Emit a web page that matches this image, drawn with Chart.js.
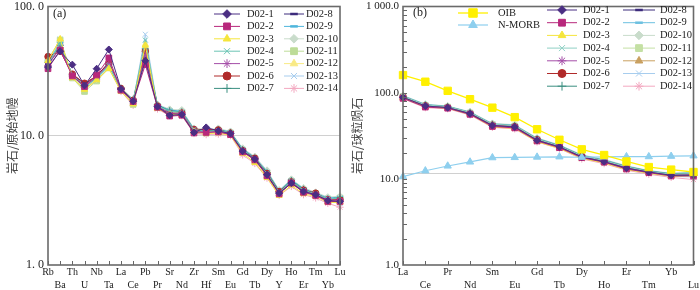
<!DOCTYPE html>
<html>
<head>
<meta charset="utf-8">
<script src="https://cdn.jsdelivr.net/npm/chart.js@4.4.1/dist/chart.umd.min.js"></script>
<style>
  html, body { margin: 0; padding: 0; background: #fff; }
  #wrap { position: relative; width: 700px; height: 290px; }
  .panel { position: absolute; top: 0; width: 350px; height: 290px; }
  #pa { left: 0; }
  #pb { left: 350px; }
</style>
</head>
<body>
<div id="wrap">
  <div class="panel" id="pa"><canvas id="chartA" width="350" height="290"></canvas></div>
  <div class="panel" id="pb"><canvas id="chartB" width="350" height="290"></canvas></div>
</div>
<script>
// categorias
const elementsA = ['Rb', 'Ba', 'Th', 'U', 'Nb', 'Ta', 'La', 'Ce', 'Pb', 'Pr', 'Sr', 'Nd', 'Zr',
                   'Hf', 'Sm', 'Eu', 'Gd', 'Tb', 'Dy', 'Y', 'Ho', 'Er', 'Tm', 'Yb', 'Lu'];
const elementsB = ['La', 'Ce', 'Pr', 'Nd', 'Sm', 'Eu', 'Gd', 'Tb', 'Dy', 'Ho', 'Er', 'Tm', 'Yb', 'Lu'];
const sampleNames = ['D02-1', 'D02-2', 'D02-3', 'D02-4', 'D02-5', 'D02-6', 'D02-7',
                     'D02-8', 'D02-9', 'D02-10', 'D02-11', 'D02-12', 'D02-13', 'D02-14'];

// eixos
const yTicksA = [1, 10, 100];
const yLabelsA = ['1. 0', '10. 0', '100. 0'];
const yTicksB = [1, 10, 100, 1000];
const yLabelsB = ['1.0', '10.0', '100.0', '1 000.0'];

// (a) rocha / manto primitivo
const a_D02_1  = [34, 45, 35.5, 24.5, 33, 46.5, 23, 18.5, 38, 16.8, 14.4, 14.6, 10.6, 11.6, 10.9, 10.4, 7.6, 6.6, 5.0, 3.6, 4.3, 3.7, 3.5, 3.15, 3.1];
const a_D02_2  = [33, 46, 29, 24, 29.5, 40, 22.5, 18.4, 35.5, 16.6, 14.2, 14.4, 10.5, 10.6, 10.7, 10.2, 7.5, 6.5, 4.9, 3.55, 4.3, 3.65, 3.45, 3.1, 3.1];
const a_D02_3  = [38, 56, 28, 22.8, 27, 33, 22, 17.6, 50, 16.2, 14.6, 14.5, 10.7, 10.4, 10.5, 10.1, 7.3, 6.2, 4.75, 3.45, 4.15, 3.55, 3.4, 3.05, 3.05];
const a_D02_4  = [36, 52, 29.5, 23.5, 28, 35, 23, 18.8, 55, 17, 15.5, 15.2, 11.2, 10.8, 11.0, 10.6, 7.8, 6.6, 5.1, 3.65, 4.45, 3.8, 3.55, 3.25, 3.3];
const a_D02_5  = [35, 48, 29, 24, 28.5, 36, 22.8, 18.6, 42, 16.8, 15, 14.9, 11, 10.7, 10.8, 10.4, 7.6, 6.5, 5.0, 3.6, 4.35, 3.75, 3.5, 3.2, 3.15];
const a_D02_6  = [41, 45, 30, 25.5, 29, 36.5, 23.2, 18.8, 45, 17, 14.8, 15, 11.2, 11.2, 11.1, 10.5, 7.7, 6.7, 5.1, 3.7, 4.4, 3.8, 3.6, 3.2, 3.2];
const a_D02_7  = [37, 50, 29.5, 24, 28.5, 35.5, 23, 18.9, 47, 17.2, 15.6, 15.3, 11.1, 10.9, 11.1, 10.6, 7.8, 6.7, 5.2, 3.7, 4.5, 3.85, 3.55, 3.25, 3.3];
const a_D02_8  = [36, 47, 30, 25, 29, 37, 23.2, 18.7, 40, 17, 14.6, 14.7, 10.8, 11, 10.8, 10.3, 7.6, 6.6, 5.0, 3.6, 4.3, 3.75, 3.5, 3.15, 3.2];
const a_D02_9  = [37, 52, 29, 24.5, 28, 35, 23.3, 19, 44, 17.3, 15.8, 15.5, 11.3, 11, 11.2, 10.7, 7.9, 6.8, 5.3, 3.75, 4.55, 3.9, 3.6, 3.3, 3.35];
const a_D02_10 = [38, 53, 28.5, 23.5, 27.5, 34, 23.5, 19.2, 46, 17.5, 16, 15.8, 11.4, 11.1, 11.4, 10.8, 8.0, 6.9, 5.4, 3.8, 4.6, 3.95, 3.65, 3.35, 3.4];
const a_D02_11 = [39, 55, 28, 22, 26.5, 33.5, 22.5, 17.5, 43, 16.5, 15.2, 15, 11, 10.5, 10.8, 10.5, 7.7, 6.6, 5.1, 3.65, 4.45, 3.8, 3.55, 3.25, 3.3];
const a_D02_12 = [38, 55, 28.5, 23, 27, 34, 22.8, 18, 51, 16.6, 15, 14.8, 10.8, 10.6, 10.7, 10.3, 7.5, 6.4, 4.9, 3.55, 4.3, 3.7, 3.45, 3.15, 3.1];
const a_D02_13 = [36, 56, 29, 23.5, 27.5, 34.5, 22.8, 18.2, 61, 16.8, 15.4, 15, 10.9, 10.7, 10.9, 10.4, 7.6, 6.5, 5.0, 3.6, 4.35, 3.7, 3.45, 3.15, 3.0];
const a_D02_14 = [35, 51, 28.5, 23, 27, 34, 22, 17.2, 41, 16.1, 14.3, 14.3, 10.4, 10.2, 10.3, 10, 7.1, 6.1, 4.7, 3.45, 4.05, 3.5, 3.3, 3.0, 2.8];

// (b) rocha / condrito
const oibB   = [160, 134, 105, 84, 67, 52, 37.6, 28.4, 22, 18.9, 15.9, 13.7, 12.8, 12.0];
const nmorbB = [10.6, 12.4, 14.1, 15.7, 17.6, 17.7, 17.9, 18.0, 17.8, 18.0, 18.1, 18.1, 18.3, 18.5];
const b_D02_1  = [88, 70, 67, 57, 41.5, 40, 28, 23.5, 18, 15.8, 13.3, 12, 11, 11];
const b_D02_2  = [86, 68, 66, 56, 40.5, 39, 27.5, 23, 17.6, 15.6, 13, 11.8, 10.8, 10.8];
const b_D02_3  = [87, 68.5, 66, 56, 40, 38.5, 27, 22.6, 17.3, 15.3, 12.8, 11.6, 10.7, 10.9];
const b_D02_4  = [91, 72, 69, 59, 43, 41.5, 29, 24, 18.5, 16.3, 13.8, 12.2, 11.3, 11.5];
const b_D02_5  = [88, 70, 67, 57, 41.5, 40, 28, 23.5, 18, 15.9, 13.4, 12, 11, 11.2];
const b_D02_6  = [89, 70.5, 67.5, 57.5, 42, 40.5, 28.5, 23.8, 18.2, 16, 13.5, 12.1, 11.1, 11.2];
const b_D02_7  = [91, 72, 69, 59, 43, 41.5, 29.2, 24.2, 18.6, 16.4, 13.9, 12.3, 11.4, 11.6];
const b_D02_8  = [88, 70, 67, 57, 41.5, 40, 28, 23.4, 17.9, 15.8, 13.3, 11.9, 11, 11.1];
const b_D02_9  = [92, 73, 69.5, 59.5, 43.5, 42, 29.5, 24.5, 18.8, 16.6, 14, 12.4, 11.5, 11.8];
const b_D02_10 = [93, 73.5, 70, 60, 44, 42.5, 29.8, 24.8, 19, 16.8, 14.2, 12.5, 11.6, 12];
const b_D02_11 = [90, 71, 68, 58, 42.5, 41, 28.8, 24, 18.4, 16.2, 13.7, 12.2, 11.3, 11.5];
const b_D02_12 = [87, 69, 66.5, 56.5, 41, 39.5, 27.8, 23.2, 17.8, 15.7, 13.2, 11.9, 10.9, 10.9];
const b_D02_13 = [87, 69, 66.5, 56.5, 41, 39.5, 27.5, 23, 17.5, 15.5, 13, 11.6, 10.7, 10.5];
const b_D02_14 = [85, 67, 65, 55, 39.5, 38, 26.8, 22.4, 17, 15, 12.6, 11.3, 10.4, 9.8];

const seriesA = [a_D02_1, a_D02_2, a_D02_3, a_D02_4, a_D02_5, a_D02_6, a_D02_7,
                 a_D02_8, a_D02_9, a_D02_10, a_D02_11, a_D02_12, a_D02_13, a_D02_14];
const seriesB = [b_D02_1, b_D02_2, b_D02_3, b_D02_4, b_D02_5, b_D02_6, b_D02_7,
                 b_D02_8, b_D02_9, b_D02_10, b_D02_11, b_D02_12, b_D02_13, b_D02_14];

// estilos
const coresA = ['#4b2e83', '#b8287c', '#f5e53c', '#6cc4b4', '#a54fa8', '#b02a2a', '#3a8f80',
                '#3d2c7c', '#4fb6dc', '#c9dccb', '#bddc98', '#f9ea85', '#a7cdee', '#f3a8c0'];
const coresB = ['#4b2e83', '#b8287c', '#f5e53c', '#8fd0c4', '#a54fa8', '#b02a2a', '#3a8f80',
                '#3d2c7c', '#6cc0e0', '#c9dccb', '#c4e0a4', '#c9a060', '#a7cdee', '#f3a8c0'];
const estilos = ['rectRot', 'rect', 'triangle', 'crossRot', 'star', 'circle', 'cross',
                 'line', 'line', 'rectRot', 'rect', 'triangle', 'crossRot', 'star'];
const raios = { rectRot: 3.5, rect: 4, triangle: 3.6, crossRot: 3.5, star: 3.6, circle: 3.2, cross: 3.6, line: 3 };

const serif = 'Liberation Serif';

function makeSet(label, data, color, style, lineWidth, radius) {
    return {
        label: label,
        data: data,
        borderColor: color,
        backgroundColor: color,
        borderWidth: lineWidth,
        pointStyle: style,
        pointRadius: radius,
        pointBackgroundColor: color,
        pointBorderColor: color,
        pointBorderWidth: style === 'line' ? 2.5 : 1,
        tension: 0
    };
}

const panelDecor = {
    id: 'panelDecor',
    beforeDatasetsDraw(chart, args, opts) {
        const { ctx, chartArea: a, scales: { y } } = chart;
        if (opts.refValue) {
            const py = Math.round(y.getPixelForValue(opts.refValue)) + 0.5;
            ctx.save();
            ctx.strokeStyle = '#d0d0d0';
            ctx.lineWidth = 1;
            ctx.beginPath();
            ctx.moveTo(a.left, py);
            ctx.lineTo(a.right, py);
            ctx.stroke();
            ctx.restore();
        }
    },
    afterDraw(chart, args, opts) {
        const { ctx, chartArea: a, scales: { x, y } } = chart;
        ctx.save();
        // ticks internos
        ctx.strokeStyle = '#666';
        ctx.lineWidth = 1;
        ctx.beginPath();
        chart.data.labels.forEach((l, i) => {
            const px = Math.round(x.getPixelForValue(i)) + 0.5;
            ctx.moveTo(px, a.bottom);
            ctx.lineTo(px, a.bottom - 4);
        });
        (opts.minorTicks || []).forEach(v => {
            const py = Math.round(y.getPixelForValue(v)) + 0.5;
            ctx.moveTo(a.left, py);
            ctx.lineTo(a.left + 4, py);
        });
        ctx.stroke();
        // moldura
        ctx.strokeStyle = '#6a6a6a';
        ctx.lineWidth = 1.6;
        ctx.strokeRect(a.left, a.top, a.right - a.left, a.bottom - a.top);
        // rótulo do painel
        ctx.fillStyle = '#222';
        ctx.font = '12px "' + serif + '"';
        ctx.textBaseline = 'middle';
        ctx.textAlign = 'left';
        ctx.fillText(opts.tag, opts.tagX, opts.tagY);
        // legenda
        ctx.font = '10.5px "' + serif + '"';
        opts.legend.forEach(col => {
            col.items.forEach((di, r) => {
                const ds = chart.data.datasets[di];
                const ly = col.rows[r];
                ctx.strokeStyle = ds.borderColor;
                ctx.lineWidth = ds.borderWidth;
                ctx.beginPath();
                ctx.moveTo(col.x0, ly);
                ctx.lineTo(col.x1, ly);
                ctx.stroke();
                ctx.fillStyle = ds.pointBackgroundColor;
                ctx.strokeStyle = ds.pointBorderColor;
                ctx.lineWidth = ds.pointBorderWidth;
                Chart.helpers.drawPoint(ctx, {
                    pointStyle: ds.pointStyle,
                    radius: ds.pointRadius + 0.8,
                    rotation: 0,
                    borderWidth: ds.pointBorderWidth
                }, (col.x0 + col.x1) / 2, ly);
                ctx.fillStyle = '#222';
                ctx.fillText(ds.label, col.tx, ly);
            });
        });
        ctx.restore();
    }
};

function yAxis(min, max, ticks, labels, title, width, titlePad, fontSize, gridValue) {
    return {
        type: 'logarithmic',
        min: min,
        max: max,
        border: { display: false },
        grid: {
            drawTicks: false,
            color: c => (gridValue && c.tick && c.tick.value === gridValue) ? '#d0d0d0' : 'rgba(0,0,0,0)'
        },
        ticks: {
            padding: 4,
            color: '#222',
            font: { family: serif, size: fontSize },
            callback: v => labels[ticks.indexOf(v)]
        },
        afterBuildTicks: s => { s.ticks = ticks.map(v => ({ value: v })); },
        title: {
            display: true,
            text: title,
            color: '#444',
            font: { family: 'Noto Sans CJK SC', size: 12 },
            padding: { top: titlePad, bottom: 0 }
        },
        afterFit: s => { s.width = width; s.paddingTop = 0; s.paddingBottom = 0; }
    };
}

function xAxis(names) {
    return {
        type: 'category',
        offset: false,
        border: { display: false },
        grid: { display: false, drawTicks: false },
        ticks: {
            autoSkip: false,
            maxRotation: 0,
            minRotation: 0,
            padding: 1,
            color: '#222',
            font: { family: serif, size: 10, lineHeight: 1.27 },
            callback: (v, i) => i % 2 ? ['', names[i]] : names[i]
        },
        afterFit: s => { s.height = 25; s.paddingLeft = 0; s.paddingRight = 0; }
    };
}

const rowsA = [14, 26.4, 38.8, 51.2, 63.6, 76, 88.4];
const rowsB = [10, 22.7, 35.4, 48.1, 60.8, 73.5, 86.2];

new Chart(document.getElementById('chartA'), {
    type: 'line',
    data: {
        labels: elementsA,
        datasets: sampleNames.map((n, i) => makeSet(n, seriesA[i], coresA[i], estilos[i], 1, raios[estilos[i]]))
    },
    options: {
        responsive: false,
        animation: false,
        layout: { padding: { top: 4, right: 10, left: 0, bottom: 0 } },
        scales: {
            x: xAxis(elementsA),
            y: yAxis(1, 100, yTicksA, yLabelsA, '岩石/原始地幔', 48, 5, 12, 10)
        },
        plugins: {
            legend: { display: false },
            tooltip: { enabled: false },
            panelDecor: {
                tag: '(a)', tagX: 53, tagY: 14,
                minorTicks: [],
                legend: [
                    { x0: 214, x1: 240, tx: 247, rows: rowsA, items: [0, 1, 2, 3, 4, 5, 6] },
                    { x0: 284, x1: 304, tx: 306, rows: rowsA, items: [7, 8, 9, 10, 11, 12, 13] }
                ]
            }
        }
    },
    plugins: [panelDecor]
});

const minorB = [2, 3, 4, 5, 6, 7, 8, 9, 10, 20, 30, 40, 50, 60, 70, 80, 90, 100, 200, 300, 400, 500, 600, 700, 800, 900];

new Chart(document.getElementById('chartB'), {
    type: 'line',
    data: {
        labels: elementsB,
        datasets: [
            makeSet('OIB', oibB, '#fff000', 'rect', 1.3, 5.2),
            makeSet('N-MORB', nmorbB, '#8ecfee', 'triangle', 1.2, 4.2)
        ].concat(sampleNames.map((n, i) => makeSet(n, seriesB[i], coresB[i], estilos[i], 1, raios[estilos[i]])))
    },
    options: {
        responsive: false,
        animation: false,
        layout: { padding: { top: 4, right: 2, left: 0, bottom: 0 } },
        scales: {
            x: xAxis(elementsB),
            y: yAxis(1, 1000, yTicksB, yLabelsB, '岩石/球粒陨石', 53, 0.5, 11, null)
        },
        plugins: {
            legend: { display: false },
            tooltip: { enabled: false },
            panelDecor: {
                tag: '(b)', tagX: 63, tagY: 13,
                refValue: 11.7,
                minorTicks: minorB,
                legend: [
                    { x0: 108, x1: 138, tx: 148, rows: [13, 25], items: [0, 1] },
                    { x0: 197, x1: 227, tx: 233, rows: rowsB, items: [2, 3, 4, 5, 6, 7, 8] },
                    { x0: 273, x1: 305, tx: 310, rows: rowsB, items: [9, 10, 11, 12, 13, 14, 15] }
                ]
            }
        }
    },
    plugins: [panelDecor]
});
</script>
</body>
</html>
